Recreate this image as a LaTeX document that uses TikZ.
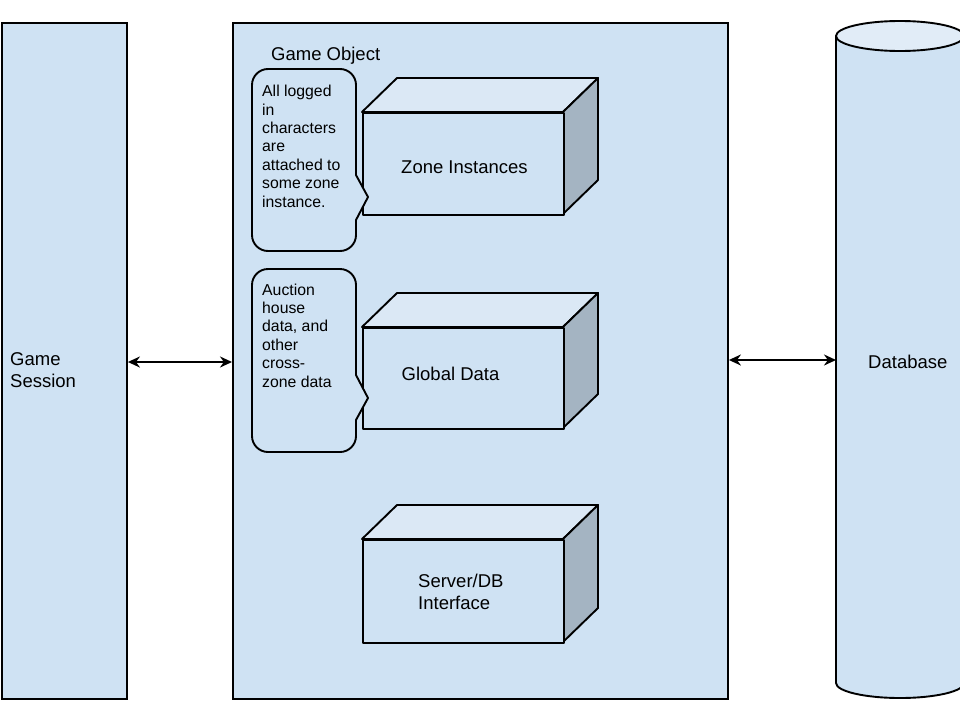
\documentclass[tikz,border=0pt]{standalone}
\usepackage{fontspec}
\setmainfont{Liberation Sans}
\usetikzlibrary{arrows.meta}
\definecolor{lblue}{HTML}{CFE2F3}
\definecolor{ltop}{HTML}{DBE8F5}
\definecolor{lside}{HTML}{A4B4C2}
\definecolor{cyltop}{HTML}{E1ECF7}
\tikzset{
  big/.style={font=\fontsize{18.5}{21.5}\selectfont, inner sep=0pt, anchor=base west, align=left},
  small/.style={font=\fontsize{15.8}{18.4}\selectfont, inner sep=0pt, anchor=base west, align=left},
  panel/.style={draw=black, line width=1.9pt, fill=lblue, inner sep=0pt},
  face/.style={draw=black, line width=1.9pt, line join=round},
  link/.style={line width=2.2pt, {Stealth[length=12pt,width=11pt]}-{Stealth[length=12pt,width=11pt]}},
  bubble/.style={draw=black, line width=1.9pt, fill=lblue, line join=round}
}
\begin{document}
\begin{tikzpicture}[x=1pt,y=-1pt]
\useasboundingbox (0,0) rectangle (960,720);
% panels
\node[panel, minimum width=125pt, minimum height=676pt, anchor=north west] (gs) at (1,22) {};
\node[panel, minimum width=495pt, minimum height=676pt, anchor=north west] (go) at (232,22) {};
% database cylinder
\filldraw[face, fill=lblue] (836,36) -- (836,683) arc[start angle=180, end angle=360, x radius=64pt, y radius=15pt] -- (964,36) -- cycle;
\filldraw[face, fill=cyltop] (900,36) ellipse[x radius=64pt, y radius=15pt];
\node[inner sep=0pt, minimum width=128pt, minimum height=647pt, anchor=north west] (db) at (836,36) {};
% texts
\node[big] (golabel) at (271,60) {Game Object};
\node[big] (gslabel) at (10,387) {Game\\Session};
\node[big] (dblabel) at (868,368) {Database};
% connectors
\draw[link] (gs.east |- 0,362) coordinate (a1) -- (go.west |- a1) coordinate (a2);
\draw[link] (go.east |- 0,360) coordinate (b1) -- (db.west |- b1) coordinate (b2);
% 3D boxes
\foreach \n/\t/\b in {zi/112/214, gd/327/428, sd/539/642}{
  \filldraw[face, fill=ltop] (362,\t) -- (397,\t-34) -- (598,\t-34) -- (563,\t) -- cycle;
  \filldraw[face, fill=lside] (563,\t) -- (598,\t-34) -- (598,\b-34) -- (563,\b) -- cycle;
  \node[panel, line join=round, minimum width=201pt, minimum height=\b-\t, anchor=north west] (\n) at (362,\t) {};
}
\node[big] (zitext) at (401,173) {Zone Instances};
\node[big] (gdtext) at (401.5,380) {Global Data};
\node[big] (sdtext) at (418,609) {Server/DB\\Interface};
% callouts
\filldraw[bubble] (356,220) [rounded corners=16pt] -- (356,251) -- (252,251) -- (252,69) -- (356,69) [sharp corners] -- (356,175) -- (368,197) -- cycle;
\node[small] (c1) at (262,207) {All logged\\in\\characters\\are\\attached to\\some zone\\instance.};
\filldraw[bubble] (356,420) [rounded corners=16pt] -- (356,452) -- (252,452) -- (252,269) -- (356,269) [sharp corners] -- (356,375) -- (368,398) -- cycle;
\node[small] (c2) at (262,387) {Auction\\house\\data, and\\other\\cross-\\zone data};
\end{tikzpicture}
\end{document}
